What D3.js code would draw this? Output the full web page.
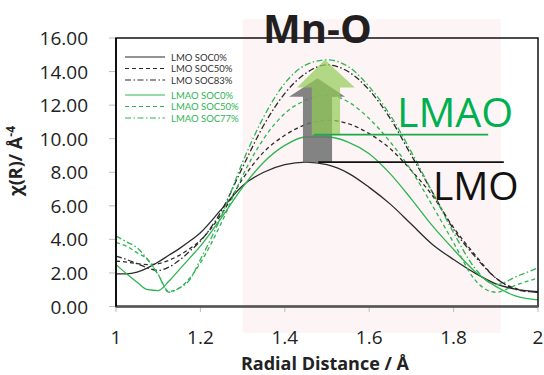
<!DOCTYPE html>
<html>
<head>
<meta charset="utf-8">
<script src="https://cdn.jsdelivr.net/npm/d3@7"></script>
<style>
  body { margin: 0; background: #fff; }
  svg { display: block; font-family: "Open Sans", "Noto Sans", sans-serif; }
</style>
</head>
<body>
<svg width="544" height="375"></svg>
<script>
const svg = d3.select("svg");

// radial distance grid (Å)
const R = [1.00, 1.025, 1.05, 1.075, 1.10, 1.125, 1.15, 1.175, 1.20, 1.25, 1.30, 1.35, 1.40,
           1.45, 1.50, 1.55, 1.60, 1.65, 1.70, 1.75, 1.80, 1.85, 1.90, 1.95, 2.00];

const lmo0  = [1.95, 1.95, 2.05, 2.3, 2.65, 3.05, 3.45, 3.9, 4.4, 5.8, 7.2, 8.0, 8.45,
               8.6, 8.45, 7.95, 7.1, 6.1, 4.9, 3.7, 2.8, 2.0, 1.35, 1.02, 0.88];
const lmo50 = [2.7, 2.65, 2.55, 2.5, 2.55, 2.75, 3.05, 3.45, 3.95, 5.5, 7.6, 9.2, 10.2,
               10.85, 11.1, 10.9, 10.3, 9.4, 8.1, 6.6, 4.7, 3.1, 1.7, 1.05, 0.85];
const lmo83 = [3.0, 2.8, 2.55, 2.3, 2.15, 2.35, 2.75, 3.3, 3.9, 5.7, 8.3, 10.8, 12.7,
               13.9, 14.4, 14.0, 12.9, 11.2, 9.0, 6.8, 4.6, 3.0, 1.7, 1.0, 0.85];
const lmao0  = [2.5, 1.95, 1.45, 1.0, 0.95, 1.5, 2.2, 2.9, 3.6, 5.3, 7.1, 8.6, 9.6,
                10.1, 10.1, 9.8, 9.1, 7.9, 6.4, 4.8, 3.4, 2.1, 1.2, 0.6, 0.4];
const lmao50 = [3.8, 3.6, 3.2, 2.8, 1.9, 0.9, 1.1, 1.7, 2.6, 5.0, 7.8, 10.0, 11.5,
                12.3, 12.6, 12.2, 11.2, 9.8, 8.1, 6.0, 3.8, 1.6, 0.85, 1.3, 1.7];
const lmao77 = [4.2, 3.85, 3.5, 2.8, 1.9, 0.85, 1.1, 1.6, 2.8, 5.4, 8.6, 11.3, 13.3,
                14.4, 14.7, 14.3, 13.1, 11.4, 9.2, 6.8, 4.4, 2.3, 1.3, 1.8, 2.3];

const seriesNames = ["LMO SOC0%", "LMO SOC50%", "LMO SOC83%", "LMAO SOC0%", "LMAO SOC50%", "LMAO SOC77%"];
const seriesValues = [lmo0, lmo50, lmo83, lmao0, lmao50, lmao77];

const xTicks = [1, 1.2, 1.4, 1.6, 1.8, 2];
const yTicks = [0, 2, 4, 6, 8, 10, 12, 14, 16];

// annotation arrows: [shaft left, shaft right, head left, head right, tip x, base value, head base value, tip value]
const grayArrow  = [1.443, 1.512, 1.41, 1.543, 1.4775, 8.6, 12.5, 13.6];
const greenArrow = [1.464, 1.531, 1.429, 1.566, 1.495, 10.24, 13.05, 14.7];

const black = "#2b2b2b";
const green = "#2db553";
const styles = [
    {color: black, dash: null},
    {color: black, dash: "4,3"},
    {color: black, dash: "6,2.5,1.5,2.5"},
    {color: green, dash: null},
    {color: green, dash: "4,3"},
    {color: green, dash: "6,2.5,1.5,2.5"}
];

const x = d3.scaleLinear().domain([1, 2]).range([116, 538]);
const y = d3.scaleLinear().domain([0, 16]).range([306.5, 38]);

// shaded Mn-O region
svg.append("rect")
    .attr("x", x(1.3)).attr("y", 19)
    .attr("width", x(1.912) - x(1.3)).attr("height", 333 - 19)
    .attr("fill", "#fdf5f5");

// tick marks
svg.append("g").selectAll("line")
    .data(yTicks).enter().append("line")
    .attr("x1", 109).attr("x2", 116)
    .attr("y1", d => y(d)).attr("y2", d => y(d))
    .attr("stroke", "#bdbdbd");
svg.append("g").selectAll("line")
    .data(xTicks).enter().append("line")
    .attr("x1", d => x(d)).attr("x2", d => x(d))
    .attr("y1", 306).attr("y2", 312)
    .attr("stroke", "#bdbdbd");

// tick labels
svg.append("g").selectAll("text")
    .data(yTicks).enter().append("text")
    .attr("x", 88).attr("y", d => y(d) + 7)
    .attr("text-anchor", "end")
    .attr("font-size", 19)
    .attr("fill", "#222")
    .text(d => d3.format(".2f")(d));
svg.append("g").selectAll("text")
    .data(xTicks).enter().append("text")
    .attr("x", d => x(d)).attr("y", 344)
    .attr("text-anchor", "middle")
    .attr("font-size", 19)
    .attr("fill", "#222")
    .text(d => d);

// curves
const line = d3.line()
    .x((d, i) => x(R[i]))
    .y(d => y(d))
    .curve(d3.curveMonotoneX);

svg.append("g").selectAll("path")
    .data(seriesValues).enter().append("path")
    .attr("d", d => line(d))
    .attr("fill", "none")
    .attr("stroke", (d, i) => styles[i].color)
    .attr("stroke-width", 1.3)
    .attr("stroke-dasharray", (d, i) => styles[i].dash);

// frame
svg.append("rect")
    .attr("x", x(1)).attr("y", y(16))
    .attr("width", x(2) - x(1)).attr("height", y(0) - y(16))
    .attr("fill", "none").attr("stroke", "#111").attr("stroke-width", 1.5);
svg.append("line")
    .attr("x1", x(1)).attr("x2", x(2)).attr("y1", y(0)).attr("y2", y(0))
    .attr("stroke", "#555").attr("stroke-width", 2.5);
svg.append("line")
    .attr("x1", x(1)).attr("x2", x(1)).attr("y1", y(16)).attr("y2", y(0))
    .attr("stroke", "#111").attr("stroke-width", 2);

// legend
const legendRows = [57, 68.5, 80, 95, 106.5, 118];
const legend = svg.append("g").selectAll("g")
    .data(seriesNames).enter().append("g");
legend.append("line")
    .attr("x1", 125).attr("x2", 165)
    .attr("y1", (d, i) => legendRows[i]).attr("y2", (d, i) => legendRows[i])
    .attr("stroke", (d, i) => styles[i].color)
    .attr("stroke-width", 1.2)
    .attr("stroke-dasharray", (d, i) => styles[i].dash);
legend.append("text")
    .attr("x", 171).attr("y", (d, i) => legendRows[i] + 3.5)
    .attr("font-family", "Lato, sans-serif")
    .attr("font-size", 9.5)
    .attr("fill", (d, i) => i < 3 ? "#333" : green)
    .text(d => d);

// arrows
function arrowPath(a) {
    return "M" + x(a[0]) + "," + y(a[5]) +
        "L" + x(a[0]) + "," + y(a[6]) +
        "L" + x(a[2]) + "," + y(a[6]) +
        "L" + x(a[4]) + "," + y(a[7]) +
        "L" + x(a[3]) + "," + y(a[6]) +
        "L" + x(a[1]) + "," + y(a[6]) +
        "L" + x(a[1]) + "," + y(a[5]) + "Z";
}
svg.append("path").attr("d", arrowPath(grayArrow))
    .attr("fill", "#6f6f6f").attr("fill-opacity", 0.85);
svg.append("path").attr("d", arrowPath(greenArrow))
    .attr("fill", "#92cc55").attr("fill-opacity", 0.7);

// peak markers
svg.append("line")
    .attr("x1", x(1.479)).attr("x2", x(1.919))
    .attr("y1", y(grayArrow[5])).attr("y2", y(grayArrow[5]))
    .attr("stroke", "#111").attr("stroke-width", 1.8);
svg.append("line")
    .attr("x1", x(1.469)).attr("x2", x(1.882))
    .attr("y1", y(greenArrow[5])).attr("y2", y(greenArrow[5]))
    .attr("stroke", "#1aaa4a").attr("stroke-width", 1.8);

svg.append("text")
    .attr("x", x(1.666)).attr("y", 127)
    .attr("font-size", 41)
    .attr("fill", "#00b050")
    .text("LMAO");
svg.append("text")
    .attr("x", x(1.751)).attr("y", 200)
    .attr("font-size", 39)
    .attr("fill", "#111")
    .text("LMO");

svg.append("text")
    .attr("x", 263).attr("y", 43)
    .attr("font-size", 40)
    .attr("font-weight", "bold")
    .attr("fill", "#231f20")
    .text("Mn-O");

// axis titles
svg.append("text")
    .attr("x", 325).attr("y", 370)
    .attr("text-anchor", "middle")
    .attr("font-size", 18)
    .attr("font-weight", "bold")
    .attr("fill", "#222")
    .text("Radial Distance / Å");

const yTitle = svg.append("text")
    .attr("transform", "translate(22,161) rotate(-90)")
    .attr("text-anchor", "middle")
    .attr("font-size", 18)
    .attr("font-weight", "bold")
    .attr("fill", "#222");
yTitle.append("tspan").text("χ(R)/ Å");
yTitle.append("tspan").attr("dy", -7).attr("font-size", 12).text("-4");
</script>
</body>
</html>
